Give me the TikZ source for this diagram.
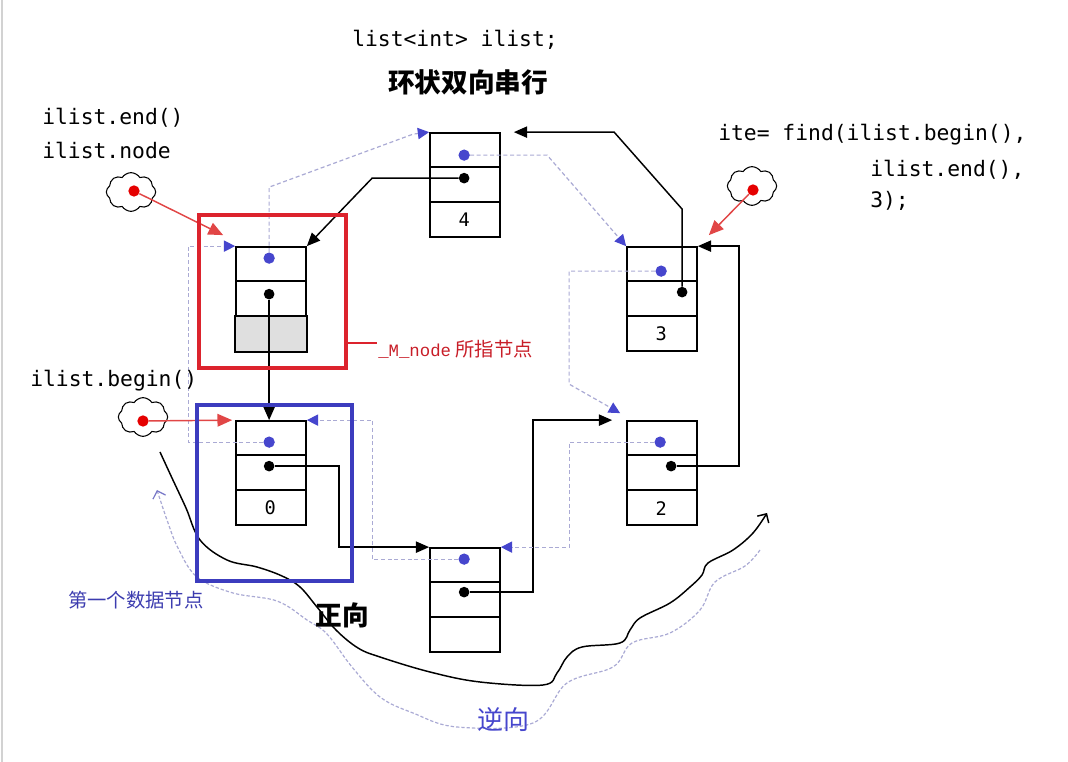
\documentclass[tikz,border=0pt]{standalone}
\usepackage{fontspec}
\setmonofont{DejaVu Sans Mono}
\newfontfamily\cjk{Noto Sans CJK SC}
\newfontfamily\courmono{Liberation Mono}
\usetikzlibrary{arrows.meta,calc,shapes.symbols}
\definecolor{framered}{RGB}{220,35,45}
\definecolor{frameblue}{RGB}{60,60,190}
\definecolor{dotblue}{RGB}{70,70,205}
\definecolor{dashcol}{RGB}{170,170,212}
\definecolor{ptrred}{RGB}{225,70,70}
\definecolor{labelred}{RGB}{200,30,40}
\definecolor{labelblue}{RGB}{60,60,175}
\tikzset{
  listbox/.style={draw,line width=1.3pt,minimum width=52.5pt,minimum height=78pt,inner sep=0pt},
  codetext/.style={inner sep=0pt,font=\ttfamily\fontsize{16}{19}\selectfont},
  valtext/.style={inner sep=0pt,font=\ttfamily\fontsize{14}{16}\selectfont},
  prevdot/.style={circle,fill=dotblue,inner sep=0pt,minimum size=8.5pt},
  nextdot/.style={circle,fill=black,inner sep=0pt,minimum size=8pt},
  reddot/.style={circle,fill=red!90!black,inner sep=0pt,minimum size=8.5pt},
  ptrcloud/.style={cloud,cloud puffs=8,cloud puff arc=115,draw,line width=0.8pt,minimum width=37pt,minimum height=29pt,inner sep=0pt},
  nextline/.style={line width=1.1pt,-{Triangle[length=10pt,width=8.5pt]}},
  prevline/.style={draw=dashcol,line width=0.9pt,dash pattern=on 3pt off 2pt,-{Triangle[length=8.5pt,width=8.5pt,color=dotblue]}},
  ptrline/.style={draw=ptrred,line width=1.1pt,-{Triangle[length=11pt,width=9.5pt]}},
  fwdcurve/.style={line width=1.1pt,-{Straight Barb[length=5pt,width=10pt]}},
  revcurve/.style={draw=dashcol,line width=0.9pt,dash pattern=on 2.5pt off 1.5pt,-{Straight Barb[length=5pt,width=10pt,color=labelblue!70]}},
  redframe/.style={draw=framered,line width=2.4pt,minimum width=110.25pt,minimum height=114.75pt,inner sep=0pt},
  blueframe/.style={draw=frameblue,line width=2.4pt,minimum width=116.25pt,minimum height=132pt,inner sep=0pt}
}
\newcommand\dllnode[5]{%
  \node[listbox] (#1) at ($(#2)+(35,52)$) {};
  \draw[line width=1.3pt] ($(#1.north west)+(0,35)$) -- ($(#1.north east)+(0,35)$)
    ($(#1.north west)+(0,70)$) -- ($(#1.north east)+(0,70)$);
  \node[valtext] (#1-val) at ($(#1.north west)+(35,88)$) {#3};
  \node[prevdot] (#1-prev) at ($(#1.north west)+(#4)$) {};
  \node[nextdot] (#1-next) at ($(#1.north west)+(#5)$) {};
}
\begin{document}
\begin{tikzpicture}[x=0.75pt,y=-0.75pt]
  \useasboundingbox (0,0) rectangle (1068,762);
  \draw[gray!35,line width=1.5pt] (2,0) -- (2,762);

  \dllnode{endn}{236,247}{}{34,12}{34,48}
  \dllnode{n4}{430,133}{4}{35,23}{35,46}
  \dllnode{n3}{627,247}{3}{35,25}{56,46}
  \dllnode{n0}{236,421}{0}{34,22}{34,46}
  \dllnode{nb}{430,548}{}{35,12}{35,45}
  \dllnode{n2}{627,421}{2}{34,22}{45,46}
  \draw[line width=1.3pt,fill=gray!25] ($(endn.north west)+(0,70)$) rectangle (endn.south east);

  \draw[nextline] (endn-next) -- (endn-next |- n0.north);
  \draw[nextline] (n0-next) -- ++(70,0) |- (nb.north west);
  \draw[nextline] (nb-next) -- ++(69,0) |- ($(n2.north west)+(-14,0)$);
  \draw[nextline] (n2-next) -- ++(68,0) |- (n3.north east);
  \draw[nextline] (n3-next) -- ++(0,-83) -- ++(-68,-77) -- ($(n4.north east)+(13,0)$);
  \draw[nextline] (n4-next) -- ++(-92,0) -- (endn.north east);

  \draw[prevline] (endn-prev) -- ++(0,-71) -- ($(n4.north west)+(-16,2)$) -- (n4.north west);
  \draw[prevline] (n4-prev) -- ++(83,0) -- (n3.north west);
  \draw[prevline] (n3-prev) -- ++(-92,0) -- ++(0,113) -- ($(n2.north west)+(-6,-7)$);
  \draw[prevline] (n2-prev) -- ++(-91,0) |- (nb.north east);
  \draw[prevline] (nb-prev) -- ++(-92,0) |- (n0.north east);
  \draw[prevline] (n0-prev) -- ++(-81,0) |- (endn.north west);

  \node[ptrcloud] (ecloud) at (131,192) {};
  \node[reddot] (ecloud-dot) at (134,191) {};
  \node[ptrcloud] (fcloud) at (752,186) {};
  \node[reddot] (fcloud-dot) at (753,190) {};
  \node[ptrcloud] (bcloud) at (143,417) {};
  \node[reddot] (bcloud-dot) at (143,421) {};
  \draw[ptrline] (ecloud-dot) -- ($(endn.north west)+(-12,-11)$);
  \draw[ptrline] (fcloud-dot) -- ($(n3.north east)+(11,-11)$);
  \draw[ptrline] (bcloud-dot) -- ($(n0.north west)+(-3,0)$);

  \draw[fwdcurve] plot[smooth,tension=0.6] coordinates {(160,452) (172,478) (186,508) (200,540) (227,560) (257,567) (282,576) (300,587) (317,607) (336,630) (358,648) (380,657) (430,672) (480,682) (543,685) (557,673) (567,657) (582,647) (620,643) (630,630) (640,618) (670,603) (690,587) (702,575) (708,563) (733,550) (753,533) (767,513)};
  \draw[revcurve] plot[smooth,tension=0.6] coordinates {(760,550) (745,566) (715,582) (700,610) (670,633) (632,643) (613,667) (567,683) (533,723) (457,727) (413,713) (380,697) (352,667) (327,634) (307,620) (277,601) (233,593) (197,577) (178,548) (167,520) (157,490)};

  \node[redframe] (endframe) at (272.5,291.5) {};
  \node[blueframe] (firstframe) at (274.5,493) {};

  \node[codetext,anchor=west] (decl) at (352,40) {list<int> ilist;};
  \node[inner sep=0pt] (title) at (468,82) {\cjk\bfseries\fontsize{20}{24}\selectfont 环状双向串行};
  \node[codetext,anchor=west] (endlbl) at (42,118) {ilist.end()};
  \node[codetext,anchor=west] (nodelbl) at (42,150) {ilist.node};
  \node[codetext,anchor=west] (findlbl) at (718,135) {ite= find(ilist.begin(),};
  \node[codetext,anchor=west] (findarg) at (870,170) {ilist.end(),};
  \node[codetext,anchor=west] (findval) at (870,201) {3);};
  \node[codetext,anchor=west] (beginlbl) at (30,381) {ilist.begin()};
  \node[anchor=west,inner sep=0pt,text=labelred] (mlabel) at (378,349) {{\courmono\fontsize{13}{15}\selectfont\_M\_node} {\cjk\fontsize{14.5}{17}\selectfont 所指节点}};
  \coordinate (mtick) at (377,343);
  \draw[framered,line width=1pt] (mtick -| endframe.east) -- (mtick);
  \node[anchor=west,inner sep=0pt,text=labelblue] (firstlbl) at (68,600) {\cjk\fontsize{14.5}{17}\selectfont 第一个数据节点};
  \node[inner sep=0pt] (fwdlbl) at (342,615) {\cjk\bfseries\fontsize{20}{24}\selectfont 正向};
  \node[inner sep=0pt,text=dotblue] (revlbl) at (503,720) {\cjk\fontsize{19.5}{23}\selectfont 逆向};
\end{tikzpicture}
\end{document}
